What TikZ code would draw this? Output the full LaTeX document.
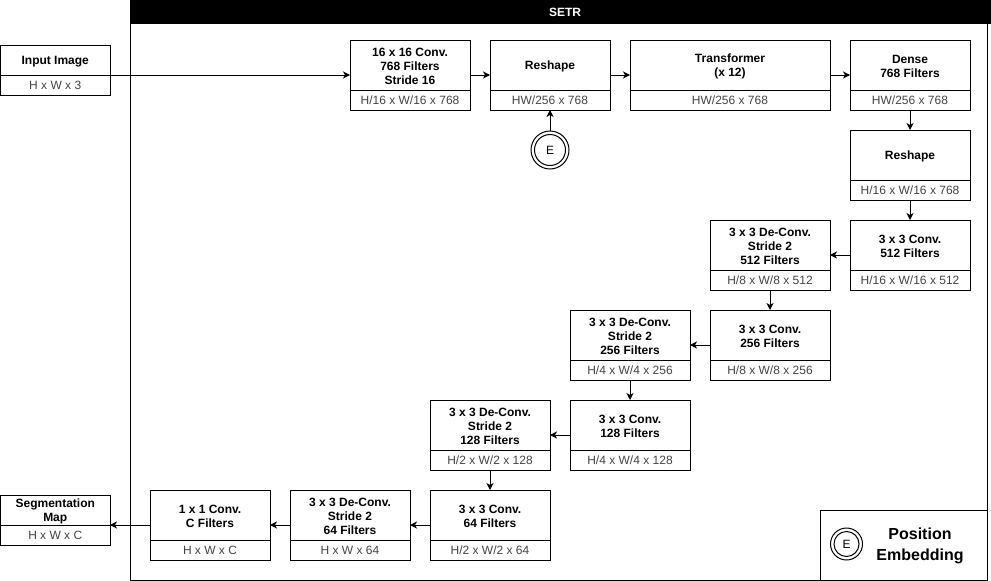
\documentclass[tikz,border=0pt]{standalone}
\usepackage{fontspec}
\setmainfont{Liberation Sans}
\usetikzlibrary{arrows.meta}
\definecolor{dimgray}{HTML}{444444}
\newcommand\blk[8]{%
  \node[box, minimum width=#4pt, minimum height=#5pt] (#1) at ({#2+#4/2},{#3+#5/2}) {};
  \draw[line width=1pt] (#1.south west) ++(0,-#6) -- ++(#4,0);
  \node[ttl] (#1t) at ({#2+#4/2},{#3+(#5-#6)/2}) {#7};
  \node[dimtxt] (#1d) at ({#2+#4/2},{#3+#5-#6/2}) {#8};
}
\begin{document}
\begin{tikzpicture}[x=1pt,y=-1pt,
  box/.style={draw, line width=1pt, fill=white, inner sep=0pt, outer sep=0pt, rectangle},
  ttl/.style={font=\fontsize{12}{14}\selectfont\bfseries, align=center, inner sep=0pt, yshift=-1.5pt},
  dimtxt/.style={font=\fontsize{12}{14}\selectfont, text=dimgray, align=center, inner sep=0pt},
  arr/.style={line width=1pt, -{Stealth[length=7pt,width=7pt,inset=2pt]}},
  ring/.style={draw, circle, line width=1pt, inner sep=0pt}
]
\useasboundingbox (0,0) rectangle (991,581);
% container
\fill[black] (130,0) rectangle (991,24);
\node[text=white, font=\fontsize{12}{14}\selectfont\bfseries] (setr) at (565,12) {SETR};
\draw[line width=1pt] (130,0) -- (130,580) -- (987,580) -- (987,24);
% blocks
\blk{inp}{0.5}{45}{109.5}{50}{20}{Input Image}{H x W x 3}
\blk{seg}{0.5}{495}{109.5}{50}{20}{Segmentation\\Map}{H x W x C}
\blk{cA}{350}{40}{120}{70}{20}{16 x 16 Conv.\\768 Filters\\Stride 16}{H/16 x W/16 x 768}
\blk{rsA}{490}{40}{120}{70}{20}{Reshape}{HW/256 x 768}
\blk{tf}{630}{40}{200}{70}{20}{Transformer\\(x 12)}{HW/256 x 768}
\blk{dn}{850}{40}{120}{70}{20}{Dense\\768 Filters}{HW/256 x 768}
\blk{rsB}{850}{130}{120}{70}{20}{Reshape}{H/16 x W/16 x 768}
\blk{cB}{850}{220}{120}{70}{20}{3 x 3 Conv.\\512 Filters}{H/16 x W/16 x 512}
\blk{dB}{710}{220}{120}{70}{20}{3 x 3 De-Conv.\\Stride 2\\512 Filters}{H/8 x W/8 x 512}
\blk{cC}{710}{310}{120}{70}{20}{3 x 3 Conv.\\256 Filters}{H/8 x W/8 x 256}
\blk{dC}{570}{310}{120}{70}{20}{3 x 3 De-Conv.\\Stride 2\\256 Filters}{H/4 x W/4 x 256}
\blk{cD}{570}{400}{120}{70}{20}{3 x 3 Conv.\\128 Filters}{H/4 x W/4 x 128}
\blk{dD}{430}{400}{120}{70}{20}{3 x 3 De-Conv.\\Stride 2\\128 Filters}{H/2 x W/2 x 128}
\blk{cE}{430}{490}{120}{70}{20}{3 x 3 Conv.\\64 Filters}{H/2 x W/2 x 64}
\blk{dE}{290}{490}{120}{70}{20}{3 x 3 De-Conv.\\Stride 2\\64 Filters}{H x W x 64}
\blk{cF}{150}{490}{120}{70}{20}{1 x 1 Conv.\\C Filters}{H x W x C}
% position embedding
\node[ring, minimum size=38pt] (emb) at (550,150) {};
\node[ring, minimum size=31pt, font=\fontsize{12}{14}\selectfont] (embi) at (emb.center) {E};
% connectors
\draw[arr] (inp.east |- cA.west) -- (cA.west);
\draw[arr] (cA.east) -- (rsA.west);
\draw[arr] (rsA.east) -- (tf.west);
\draw[arr] (tf.east) -- (dn.west);
\draw[arr] (emb.north) -- (rsA.south);
\draw[arr] (dn.south) -- (rsB.north);
\draw[arr] (rsB.south) -- (cB.north);
\draw[arr] (cB.west) -- (dB.east);
\draw[arr] (dB.south) -- (cC.north);
\draw[arr] (cC.west) -- (dC.east);
\draw[arr] (dC.south) -- (cD.north);
\draw[arr] (cD.west) -- (dD.east);
\draw[arr] (dD.south) -- (cE.north);
\draw[arr] (cE.west) -- (dE.east);
\draw[arr] (dE.west) -- (cF.east);
\draw[arr] (cF.west) -- (seg.east |- cF.west);
% legend
\node[box, minimum width=167pt, minimum height=70pt, anchor=north west] (leg) at (820,510) {};
\node[ring, minimum size=32pt] (legc) at (846.5,544) {};
\node[ring, minimum size=25pt, font=\fontsize{12}{14}\selectfont] (legci) at (legc.center) {E};
\node[font=\fontsize{16}{21}\selectfont\bfseries, align=center, inner sep=0pt] (legt) at (920,546) {Position\\Embedding};
\end{tikzpicture}
\end{document}
